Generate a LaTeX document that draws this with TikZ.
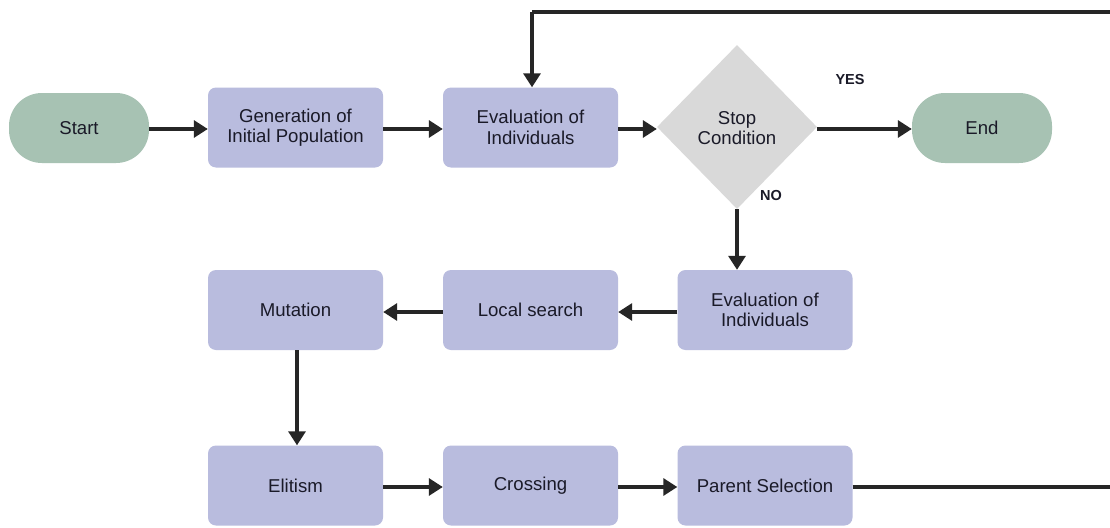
\documentclass[tikz,border=0pt]{standalone}
\usepackage{fontspec}
\setmainfont{Liberation Sans}
\usetikzlibrary{arrows.meta,shapes.geometric}
\definecolor{boxc}{HTML}{B9BCDE}
\definecolor{termc}{HTML}{A7C2B3}
\definecolor{diac}{HTML}{D9D9D9}
\definecolor{linec}{HTML}{262626}
\definecolor{txtc}{HTML}{1A1A28}
\tikzset{
  x=1pt,y=-1pt,
  procbox/.style={fill=boxc,rounded corners=8pt,minimum width=175pt,minimum height=80pt,
    align=center,text=txtc,font=\fontsize{18.6}{20.5}\selectfont,inner sep=0pt},
  termbox/.style={fill=termc,rounded corners=33pt,minimum width=140pt,minimum height=70pt,
    text=txtc,font=\fontsize{18.6}{20.5}\selectfont,inner sep=0pt},
  decbox/.style={diamond,fill=diac,minimum width=160pt,minimum height=164pt,inner sep=0pt,
    aspect=1},
  dectxt/.style={text=txtc,font=\fontsize{18.6}{20.5}\selectfont,align=center},
  lbl/.style={font=\bfseries\fontsize{14.5}{16}\selectfont,text=txtc,inner sep=0pt},
  conn/.style={draw=linec,line width=3.2pt,-{Triangle[width=17pt,length=14pt]}},
  plain/.style={draw=linec,line width=3.2pt},
}
\begin{document}
\begin{tikzpicture}
\useasboundingbox (0,0) rectangle (1110,527);
\fill[white] (0,0) rectangle (1110,527);
\node[termbox] (start) at (79,128) {Start};
\node[procbox] (gen) at (295.5,127.5) {Generation of\\Initial Population};
\node[procbox] (eval1) at (530.5,127.5) {Evaluation of\\Individuals};
\node[decbox] (stop) at (737,127) {};
\node[dectxt] (stoptxt) at (737,128) {Stop\\Condition};
\node[termbox] (end) at (982,128) {End};
\node[lbl] (yes) at (850,80) {YES};
\node[lbl] (no) at (771,196) {NO};
\node[procbox] (eval2) at (765,310) {Evaluation of\\Individuals};
\node[procbox] (local) at (530.5,310) {Local search};
\node[procbox] (mut) at (295.5,310) {Mutation};
\node[procbox] (elit) at (295.5,485.5) {Elitism};
\node[procbox] (cross) at (530.5,485.5) {Crossing};
\node[procbox] (parent) at (765,485.5) {Parent Selection};
\coordinate (r1) at (1116,487);
\coordinate (r2) at (1116,12);
\coordinate (t1) at (532,12);

\draw[conn] (start.east |- 0,129) -- (gen.west |- 0,129);
\draw[conn] (gen.east |- 0,129) -- (eval1.west |- 0,129);
\draw[conn] (eval1.east |- 0,129) -- (stop.west |- 0,129);
\draw[conn] (stop.east |- 0,129) -- (end.west |- 0,129);
\draw[conn] (stop.south) -- (stop.south |- eval2.north);
\draw[conn] (eval2.west |- 0,312) -- (local.east |- 0,312);
\draw[conn] (local.west |- 0,312) -- (mut.east |- 0,312);
\draw[conn] (mut.south -| 297,0) -- (elit.north -| 297,0);
\draw[conn] (elit.east |- 0,487) -- (cross.west |- 0,487);
\draw[conn] (cross.east |- 0,487) -- (parent.west |- 0,487);
\draw[plain] (parent.east |- r1) -- (r1) -- (r2) -- (t1);
\draw[conn] (t1) -- (t1 |- eval1.north);
\end{tikzpicture}
\end{document}
